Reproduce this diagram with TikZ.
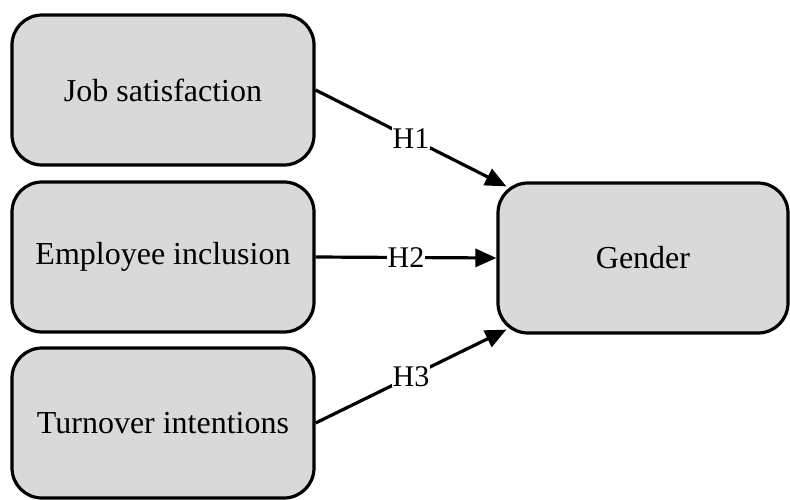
\documentclass[tikz,border=0pt]{standalone}
\usepackage{fontspec}
\setmainfont{Liberation Serif}
\usetikzlibrary{arrows.meta,calc}
\definecolor{boxgray}{HTML}{D9D9D9}
\tikzset{
  box/.style={draw=black, line width=3.2pt, fill=boxgray, rounded corners=30pt,
    minimum width=302pt, minimum height=150pt, inner sep=0pt, font=\fontsize{32}{36}\selectfont},
  conn/.style={line width=3.2pt, -{Triangle[length=21pt,width=18pt]}},
  hlabel/.style={fill=white, inner sep=1pt, font=\fontsize{30}{33}\selectfont}
}
\begin{document}
\begin{tikzpicture}[x=1pt,y=-1pt]
\useasboundingbox (0,0) rectangle (790,499);
\node[box] (js) at (163,90) {Job satisfaction};
\node[box] (ei) at (163,257) {Employee inclusion};
\node[box] (ti) at (163,423) {Turnover intentions};
\node[box, minimum width=290pt] (g) at (643,258) {Gender};
\coordinate (gtop) at ($(g.north west)+(10pt,-5pt)$);
\coordinate (gbot) at ($(g.south west)+(10pt,5pt)$);
\draw[conn] (js.east) -- node[hlabel] {H1} (gtop);
\draw[conn] (ei.east) -- node[hlabel] {H2} (g.west);
\draw[conn] (ti.east) -- node[hlabel] {H3} (gbot);
\end{tikzpicture}
\end{document}
